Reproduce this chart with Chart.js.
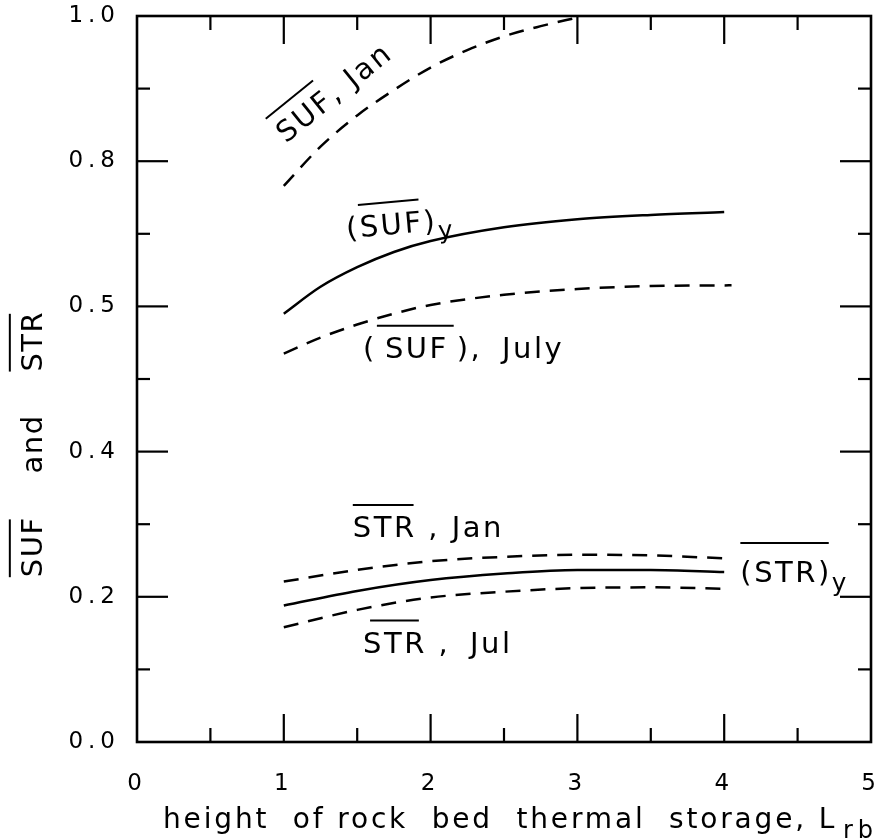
<!DOCTYPE html>
<html><head><meta charset="utf-8">
<script src="https://cdn.jsdelivr.net/npm/chart.js@4.4.1/dist/chart.umd.min.js"></script>
<style>html,body{margin:0;padding:0;background:#fff;}canvas{display:block}</style>
</head><body>
<canvas id="c" width="886" height="840" style="width:886px;height:840px"></canvas>
<script>
// ---- data ----
const xTickLabels = ['0', '1', '2', '3', '4', '5'];
const yTickLabels = ['0.0', '0.2', '0.4', '0.5', '0.8', '1.0'];

const xSufJan = [1.0, 1.25, 1.5, 1.75, 2.0, 2.25, 2.5, 2.75, 3.0];
const sufJan  = [0.766, 0.820, 0.863, 0.898, 0.929, 0.953, 0.972, 0.986, 0.998];

const xSufY = [1.0, 1.25, 1.5, 1.75, 2.0, 2.5, 3.0, 3.5, 4.0];
const sufY  = [0.590, 0.627, 0.654, 0.675, 0.690, 0.709, 0.720, 0.726, 0.730];

const xSufJuly = [1.0, 1.25, 1.5, 1.75, 2.0, 2.5, 3.0, 3.5, 4.05];
const sufJuly  = [0.535, 0.557, 0.575, 0.590, 0.602, 0.616, 0.624, 0.628, 0.629];

const xStr   = [1.0, 1.5, 2.0, 2.5, 3.0, 3.5, 4.0];
const strJan = [0.221, 0.237, 0.249, 0.255, 0.258, 0.257, 0.253];
const strY   = [0.188, 0.208, 0.223, 0.232, 0.237, 0.237, 0.234];
const strJul = [0.158, 0.182, 0.199, 0.207, 0.212, 0.213, 0.211];

const FONT = '"DejaVu Sans", sans-serif';

function pts(xs, ys) { return xs.map((x, i) => ({ x: x, y: ys[i] })); }
function series(label, xs, ys, dashed) {
  return {
    label: label, data: pts(xs, ys), borderColor: '#000', borderWidth: 2.5,
    borderDash: dashed ? [15, 10] : [], pointRadius: 0, fill: false,
    cubicInterpolationMode: 'monotone'
  };
}

// labels with overlined parts: anchor in data units
const annotations = [
  { at: [1.015, 0.824], rot: -39, parts: [{ t: 'SUF', over: true }, { t: ', Jan' }] },
  { at: [1.43, 0.694], rot: -5, parts: [{ t: '(' }, { t: 'SUF', over: true }, { t: ')' }, { t: 'y', sub: true }] },
  { at: [1.54, 0.529], rot: 0, parts: [{ t: '(' }, { t: 'SUF', over: true, padL: 8, padR: 8 }, { t: '), ' }, { t: 'July', padL: 8 }] },
  { at: [1.47, 0.282], rot: 0, parts: [{ t: 'STR', over: true }, { t: ' , Jan' }] },
  { at: [4.11, 0.220], rot: 0, parts: [{ t: '(STR)', over: true, lift: 7 }, { t: 'y', sub: true }] },
  { at: [1.54, 0.123], rot: 0, parts: [{ t: 'STR', over: true, inL: 7, inR: 5 }, { t: ' , ' }, { t: 'Jul', padL: 8 }] }
];

function line(ctx, x1, y1, x2, y2) { ctx.beginPath(); ctx.moveTo(x1, y1); ctx.lineTo(x2, y2); ctx.stroke(); }

const spacingPlugin = {
  id: 'spacing',
  beforeDraw(chart) { if ('letterSpacing' in chart.ctx) chart.ctx.letterSpacing = '5px'; }
};

const framePlugin = {
  id: 'frame',
  afterDraw(chart) {
    const ctx = chart.ctx, a = chart.chartArea, xs = chart.scales.x, ys = chart.scales.y;
    ctx.save();
    ctx.strokeStyle = '#000';
    ctx.lineWidth = 2.6;
    ctx.strokeRect(a.left, a.top, a.right - a.left, a.bottom - a.top);
    ctx.lineWidth = 2.2;
    for (let i = 1; i < 10; i++) {
      const px = xs.getPixelForValue(i * 0.5);
      const L = i % 2 === 0 ? 28 : 14;
      line(ctx, px, a.bottom, px, a.bottom - L);
      line(ctx, px, a.top, px, a.top + L);
    }
    for (let i = 1; i < 10; i++) {
      const py = ys.getPixelForValue(i * 0.1);
      const L = i % 2 === 0 ? 31 : 13;
      line(ctx, a.left, py, a.left + L, py);
      line(ctx, a.right, py, a.right - L, py);
    }
    ctx.restore();
  }
};

function drawParts(ctx, parts, size) {
  let x = 0;
  for (const p of parts) {
    const fs = p.sub ? size * 0.85 : size;
    ctx.font = fs + 'px ' + FONT;
    const dy = p.sub ? size * 0.3 : 0;
    const x0 = x;
    x += p.padL || 0;
    ctx.fillText(p.t, x, dy);
    const w = ctx.measureText(p.t).width;
    x += w + (p.padR || 0);
    if (p.over) {
      ctx.lineWidth = 2;
      const oy = -size * 0.73 - 11 - (p.lift || 0);
      line(ctx, x0 + (p.inL || 0), oy, x - 3 - (p.inR || 0), oy);
    }
  }
}

const textPlugin = {
  id: 'texts',
  afterDraw(chart) {
    const ctx = chart.ctx, xs = chart.scales.x, ys = chart.scales.y;
    ctx.save();
    ctx.fillStyle = '#000';
    ctx.strokeStyle = '#000';
    ctx.textBaseline = 'alphabetic';
    ctx.textAlign = 'left';
    const hasLS = 'letterSpacing' in ctx;
    if (hasLS) ctx.letterSpacing = '2.5px';
    for (const an of annotations) {
      ctx.save();
      ctx.translate(xs.getPixelForValue(an.at[0]), ys.getPixelForValue(an.at[1]));
      ctx.rotate(an.rot * Math.PI / 180);
      drawParts(ctx, an.parts, 29);
      ctx.restore();
    }
    // y axis title
    ctx.save();
    if (hasLS) ctx.letterSpacing = '1.5px';
    ctx.translate(42, 444);
    ctx.rotate(-Math.PI / 2);
    const yParts = [{ t: 'SUF', over: true }, { t: '    and    ' }, { t: 'STR', over: true }];
    ctx.font = '29px ' + FONT;
    let tw = 0; for (const p of yParts) tw += ctx.measureText(p.t).width;
    ctx.translate(-tw / 2, 0);
    drawParts(ctx, yParts, 29);
    ctx.restore();
    // x axis title (fitted between the reference's start and end)
    ctx.save();
    ctx.font = '28px ' + FONT;
    const main = 'height  of rock  bed  thermal  storage, L';
    if (hasLS) {
      ctx.letterSpacing = '0px';
      const w0 = ctx.measureText(main).width;
      ctx.letterSpacing = ((674 - w0) / main.length).toFixed(2) + 'px';
    }
    ctx.fillText(main, 163, 828);
    ctx.font = '24px ' + FONT;
    if (hasLS) ctx.letterSpacing = '5px';
    ctx.fillText('rb', 843, 838);
    ctx.restore();
    ctx.restore();
  }
};

new Chart(document.getElementById('c'), {
  type: 'line',
  data: {
    datasets: [
      series('SUF, Jan', xSufJan, sufJan, true),
      series('(SUF)y', xSufY, sufY, false),
      series('(SUF), July', xSufJuly, sufJuly, true),
      series('STR, Jan', xStr, strJan, true),
      series('(STR)y', xStr, strY, false),
      series('STR, Jul', xStr, strJul, true)
    ]
  },
  options: {
    responsive: false,
    animation: false,
    layout: { padding: { top: 16, right: 15, left: 0, bottom: 0 } },
    plugins: { legend: { display: false }, tooltip: { enabled: false }, title: { display: false } },
    scales: {
      x: {
        type: 'linear', min: 0, max: 5,
        afterFit(s) { s.height = 98; s.paddingLeft = 0; s.paddingRight = 0; s.paddingTop = 0; s.paddingBottom = 0; },
        grid: { display: false, drawTicks: false },
        border: { display: false },
        ticks: {
          stepSize: 1, autoSkip: false, padding: 28, color: '#000',
          font: { family: FONT, size: 23 },
          callback: (v) => xTickLabels[Math.round(v)]
        }
      },
      y: {
        type: 'linear', min: 0, max: 1,
        afterFit(s) { s.width = 137; s.paddingLeft = 0; s.paddingRight = 0; s.paddingTop = 0; s.paddingBottom = 0; },
        grid: { display: false, drawTicks: false },
        border: { display: false },
        ticks: {
          stepSize: 0.2, autoSkip: false, padding: 17, color: '#000',
          font: { family: FONT, size: 23 },
          callback: (v, i) => yTickLabels[i]
        }
      }
    }
  },
  plugins: [spacingPlugin, framePlugin, textPlugin]
});
</script>
</body></html>
